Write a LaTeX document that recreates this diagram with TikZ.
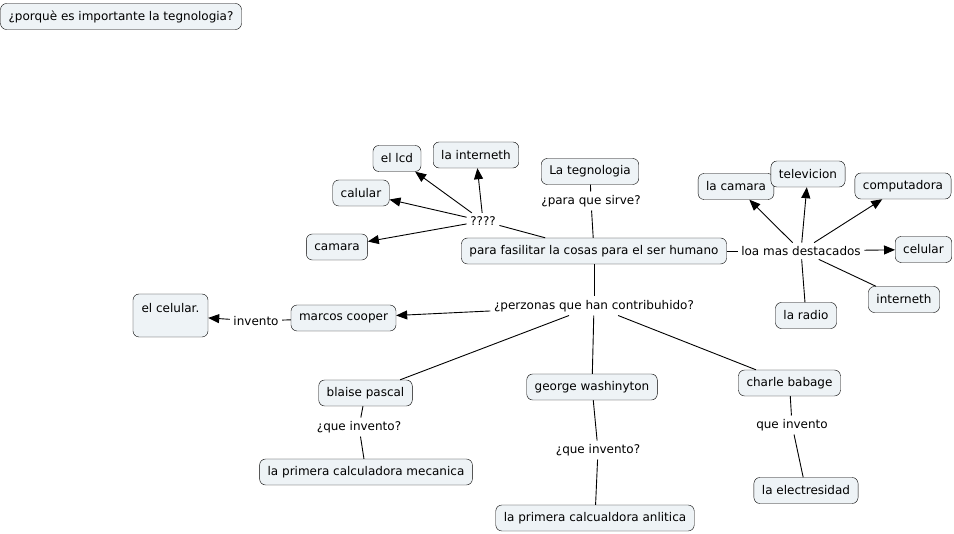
\documentclass[tikz,border=0pt]{standalone}
\usepackage{fontspec}
\setmainfont{DejaVu Sans}
\usepackage{xcolor}
\usetikzlibrary{arrows.meta}
\definecolor{conceptfill}{HTML}{EEF3F6}
\tikzset{concept/.style={draw,rounded corners=6pt,fill=conceptfill,inner xsep=8pt,minimum height=26pt,font=\fontsize{12}{14}\selectfont},
  phrase/.style={inner sep=3.5pt,font=\fontsize{12}{14}\selectfont},
  plainlink/.style={draw,line width=0.9pt},
  arrowlink/.style={plainlink,-{Triangle[length=11pt,width=9pt]}}}

\begin{document}
\begin{tikzpicture}[x=1pt,y=-1pt]
\useasboundingbox (0,0) rectangle (954,534);

% create the concepts
\node[concept] (porque) at (121,16.5) {¿porquè es importante la tegnologia?};
\node[concept] (tec) at (590,171.5) {La tegnologia};
\node[concept] (fac) at (594,251) {para fasilitar la cosas para el ser humano};
\node[concept] (lcd) at (397,158.5) {el lcd};
\node[concept] (inet) at (476,155) {la interneth};
\node[concept] (calular) at (361,193) {calular};
\node[concept] (camara) at (337,247) {camara};
\node[concept] (lacamara) at (736,186.5) {la camara};
\node[concept] (tele) at (808,174) {televicion};
\node[concept] (comp) at (903,186) {computadora};
\node[concept] (cel) at (923.5,249.5) {celular};
\node[concept] (inet2) at (904,299.5) {interneth};
\node[concept] (radio) at (806,315.5) {la radio};
\node[concept] (marcos) at (343.5,318) {marcos cooper};
\node[concept,minimum width=75pt,text height=15pt,text depth=20pt,inner ysep=4pt] (elcel) at (170.5,315.5) {el celular.};
\node[concept] (blaise) at (365.5,393) {blaise pascal};
\node[concept] (meca) at (366,472) {la primera calculadora mecanica};
\node[concept] (george) at (592,387) {george washinyton};
\node[concept] (anli) at (595,518) {la primera calcualdora anlitica};
\node[concept] (charle) at (789.5,383) {charle babage};
\node[concept] (elec) at (806,490.5) {la electresidad};

% linking phrases
\node[phrase] (sirve) at (591,201) {¿para que sirve?};
\node[phrase] (q4) at (483,221) {????};
\node[phrase] (dest) at (801,251) {loa mas destacados};
\node[phrase] (pers) at (594,306) {¿perzonas que han contribuhido?};
\node[phrase] (invento) at (256,321) {invento};
\node[phrase] (que1) at (359,427) {¿que invento?};
\node[phrase] (que2) at (598,450) {¿que invento?};
\node[phrase] (que3) at (792,425) {que invento};

% lines without heads
\foreach \y\z in {tec/sirve,sirve/fac,fac/q4,fac/dest,dest/inet2,dest/radio,fac/pers,pers/blaise,pers/george,pers/charle,marcos/invento,blaise/que1,que1/meca,george/que2,que2/anli,charle/que3,que3/elec}
  \draw[plainlink] (\y) -- (\z);

% lines with heads
\foreach \y\z in {q4/lcd,q4/inet,q4/calular,q4/camara,dest/lacamara,dest/tele,dest/comp,dest/cel,pers/marcos,invento/elcel}
  \draw[arrowlink] (\y) -- (\z);

\end{tikzpicture}
\end{document}
